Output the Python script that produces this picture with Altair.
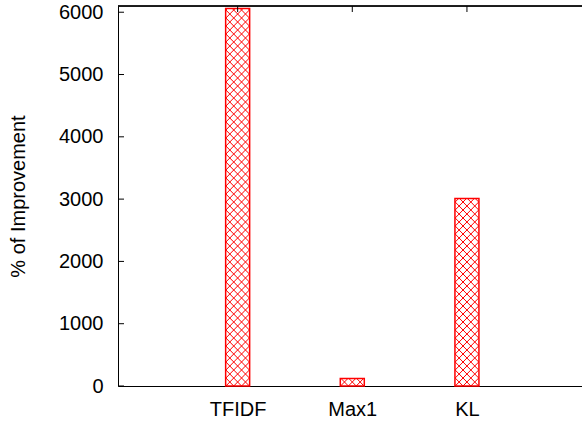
import json
import math
import altair as alt
import pandas as pd

# ---- data ----
categories = ["TFIDF", "Max1", "KL"]
positions = [1, 2, 3]
improvement = [6060, 120, 3010]
y_ticks = [0, 1000, 2000, 3000, 4000, 5000, 6000]

# ---- layout / style ----
W, H = 464, 380
XMAX, YMAX = 3.96, 6100
BAR_PX = 24
HATCH_PX = 8
RED = "#ff0000"
FONT = "Liberation Sans"
FS = 20

px_x = W / XMAX
px_y = H / YMAX

bars = pd.DataFrame({"cat": categories, "pos": positions, "val": improvement})
ticks = pd.DataFrame({"t": y_ticks})

# cross-hatch segments derived from the bar values (clipped to each bar)
segs = []
for pos, val in zip(positions, improvement):
    w = BAR_PX
    h = val * px_y
    x0 = pos - (w / 2) / px_x
    kw = int(math.ceil(w / HATCH_PX))
    kh = int(math.ceil(h / HATCH_PX))
    for k in range(-kw, kh + 1):
        c = k * HATCH_PX
        lo, hi = max(0.0, -c), min(w, h - c)
        if hi > lo:
            segs.append({"x": x0 + lo / px_x, "y": (lo + c) / px_y,
                         "x2": x0 + hi / px_x, "y2": (hi + c) / px_y})
    for k in range(0, kh + kw + 1):
        c = k * HATCH_PX
        lo, hi = max(0.0, c - h), min(w, c)
        if hi > lo:
            segs.append({"x": x0 + lo / px_x, "y": (c - lo) / px_y,
                         "x2": x0 + hi / px_x, "y2": (c - hi) / px_y})
hatch = pd.DataFrame(segs)

xscale = alt.Scale(domain=[0, XMAX], nice=False, zero=False)
yscale = alt.Scale(domain=[0, YMAX], nice=False)

label_expr = json.dumps(categories) + "[datum.value - 1]"

xaxis = alt.Axis(values=positions, labelExpr=label_expr, title=None,
                 grid=False, ticks=False, domain=True, domainColor="black",
                 domainWidth=1, labelFont=FONT, labelFontSize=FS,
                 labelColor="black", labelBaseline="alphabetic",
                 labelPadding=29, labelFlush=False)
yaxis = alt.Axis(values=y_ticks, format="d", title="% of Improvement", grid=False,
                 ticks=False, domain=True, domainColor="black",
                 domainWidth=1, labelFont=FONT, labelFontSize=FS,
                 labelColor="black", labelPadding=15,
                 titleFont=FONT, titleFontSize=FS, titleFontWeight="normal",
                 titleColor="black", titleAngle=270, titleAlign="center",
                 titleBaseline="middle", titleX=-100, titleY=H / 2)

base_bars = alt.Chart(bars).mark_bar(size=BAR_PX, fill="white", stroke=None).encode(
    x=alt.X("pos:Q", scale=xscale, axis=xaxis),
    y=alt.Y("val:Q", scale=yscale, axis=yaxis),
)

hatch_layer = alt.Chart(hatch).mark_rule(color=RED, strokeWidth=1).encode(
    x=alt.X("x:Q", scale=xscale, axis=xaxis),
    y=alt.Y("y:Q", scale=yscale, axis=yaxis),
    x2="x2:Q",
    y2="y2:Q",
)

outline = alt.Chart(bars).mark_bar(size=BAR_PX, fillOpacity=0, stroke=RED,
                                   strokeWidth=1.5).encode(
    x=alt.X("pos:Q", scale=xscale, axis=xaxis),
    y=alt.Y("val:Q", scale=yscale, axis=yaxis),
)

left_ticks = alt.Chart(ticks).mark_rule(color="black", strokeWidth=1).encode(
    y=alt.Y("t:Q", scale=yscale, axis=yaxis),
    x=alt.value(0),
    x2=alt.value(6),
)

top_ticks = alt.Chart(bars).mark_rule(color="black", strokeWidth=1).encode(
    x=alt.X("pos:Q", scale=xscale, axis=xaxis),
    y=alt.value(0),
    y2=alt.value(6),
)

top_line = alt.Chart(bars).mark_rule(color="black", strokeWidth=1).encode(
    y=alt.value(0),
    x=alt.value(0),
    x2=alt.value(W),
)

chart = alt.layer(base_bars, hatch_layer, outline, left_ticks, top_ticks, top_line).properties(
    width=W,
    height=H,
    autosize=alt.AutoSizeParams(type="none"),
    padding={"left": 118, "top": 6, "right": 0, "bottom": 37},
).configure_view(stroke=None).configure(background="white")

chart.save("out.html", embed_options={"renderer": "svg", "actions": False})
